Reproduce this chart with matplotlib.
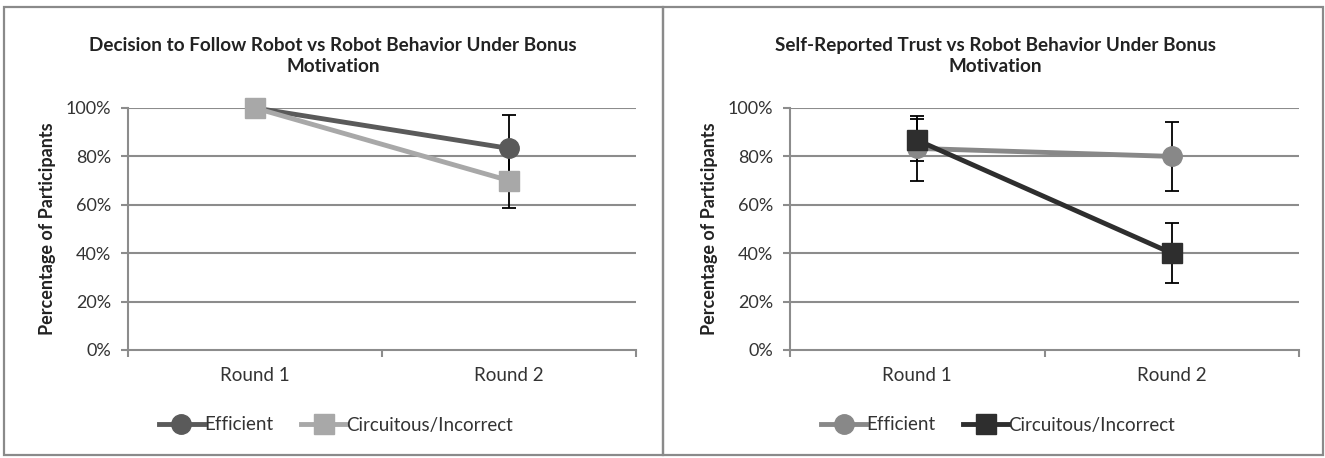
import matplotlib
matplotlib.use("Agg")
import matplotlib.pyplot as plt
from matplotlib.patches import Rectangle

plt.rcParams['font.family'] = ['Lato', 'DejaVu Sans']

# Data
rounds = ["Round 1", "Round 2"]
yticks = [0, 20, 40, 60, 80, 100]

# (a) decision to follow robot
follow_eff = [100, 83.3]
follow_eff_err = [0, 13.7]
follow_circ = [100, 70.0]
follow_circ_err = [0, 11.4]

# (b) self-reported trust
trust_eff = [83.3, 80.0]
trust_eff_err = [13.3, 14.3]
trust_circ = [86.7, 40.0]
trust_circ_err = [8.8, 12.5]

titles = ["Decision to Follow Robot vs Robot Behavior Under Bonus\nMotivation",
          "Self-Reported Trust vs Robot Behavior Under Bonus\nMotivation"]

fig = plt.figure(figsize=(13.25, 4.58), dpi=100)

# chart frames (Excel chart area look)
fig.patches.append(Rectangle((4/1325, 3/458), 659/1325, 448/458, transform=fig.transFigure,
                             fill=False, edgecolor='#8a8a8a', lw=1.6))
fig.patches.append(Rectangle((663/1325, 3/458), 660/1325, 448/458, transform=fig.transFigure,
                             fill=False, edgecolor='#8a8a8a', lw=1.6))

ax1 = fig.add_axes([128/1325, 1-350/458, 508/1325, 242/458])
ax2 = fig.add_axes([790/1325, 1-350/458, 509/1325, 242/458])

panels = [
    (ax1, follow_eff, follow_eff_err, follow_circ, follow_circ_err, '#5a5a5a', '#a8a8a8', titles[0], 333),
    (ax2, trust_eff, trust_eff_err, trust_circ, trust_circ_err, '#888888', '#2e2e2e', titles[1], 995),
]

x = [1, 2]
for ax, eff, eff_err, circ, circ_err, c_eff, c_circ, title, tx in panels:
    ax.set_xlim(0.5, 2.5)
    ax.set_ylim(0, 100)
    for v in yticks[1:]:
        ax.axhline(v, color='#8c8c8c', lw=1.5, zorder=0)
    ax.errorbar(x, eff, yerr=eff_err, fmt='none', ecolor='black', elinewidth=1.3,
                capsize=5, capthick=1.3, zorder=2, clip_on=False)
    ax.errorbar(x, circ, yerr=circ_err, fmt='none', ecolor='black', elinewidth=1.3,
                capsize=5, capthick=1.3, zorder=2, clip_on=False)
    ax.plot(x, eff, color=c_eff, lw=3.5, marker='o', ms=14, label='Efficient',
            zorder=3, clip_on=False)
    ax.plot(x, circ, color=c_circ, lw=3.5, marker='s', ms=14, label='Circuitous/Incorrect',
            zorder=4, clip_on=False)

    ax.set_yticks(yticks)
    ax.set_yticklabels([f"{v}%" for v in yticks], fontsize=13, color='#333333')
    ax.set_xticks([0.5, 1.5, 2.5])
    ax.set_xticklabels([])
    ax.set_xticks(x, minor=True)
    ax.set_xticklabels(rounds, minor=True, fontsize=13.5, color='#333333')
    ax.tick_params(axis='x', which='minor', length=0, pad=12)
    ax.tick_params(axis='x', which='major', length=5, color='#8c8c8c', width=1.5)
    ax.tick_params(axis='y', length=5, color='#8c8c8c', width=1.5, pad=7)
    for s in ['top', 'right']:
        ax.spines[s].set_visible(False)
    for s in ['left', 'bottom']:
        ax.spines[s].set_color('#8c8c8c')
        ax.spines[s].set_linewidth(1.5)
    ax.set_ylabel("Percentage of Participants", fontsize=13, fontweight='bold',
                  color='#222222', labelpad=7)
    fig.text(tx/1325, 1-56/458, title, ha='center', va='center', fontsize=13.6,
             fontweight='bold', color='#222222', linespacing=1.3)
    ax.legend(loc='center', bbox_to_anchor=((tx + 3)/1325, 1-425/458),
              bbox_transform=fig.transFigure, ncol=2, frameon=False,
              fontsize=13.5, handlelength=2.4, handletextpad=0.0, columnspacing=1.5,
              labelcolor='#333333')

fig.savefig("out.png", dpi=100)
